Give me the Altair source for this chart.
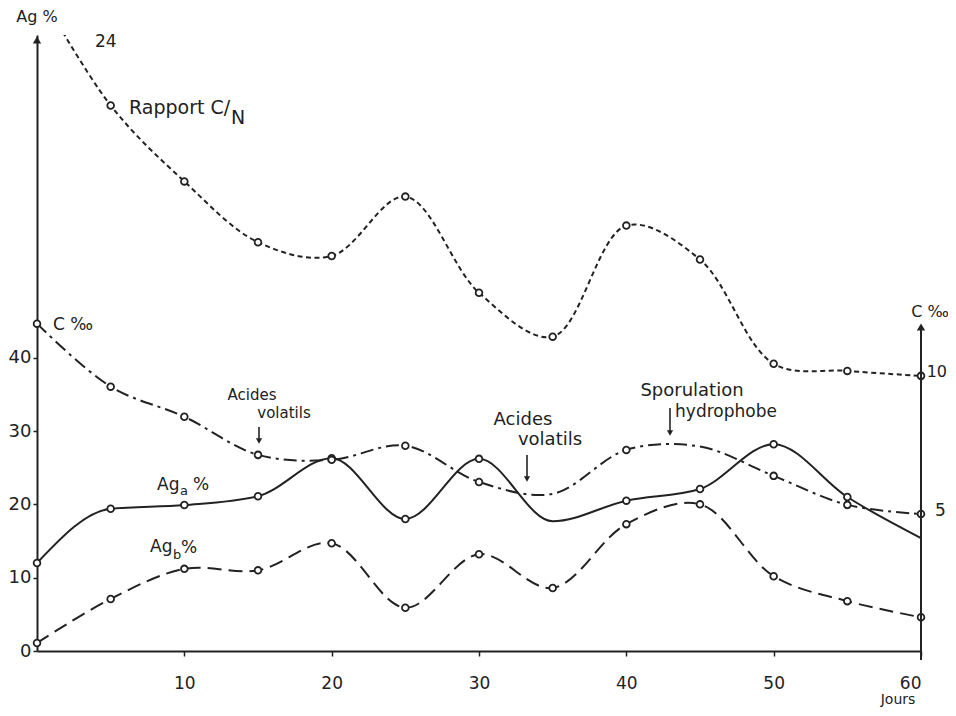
import altair as alt
import pandas as pd

# ---- data ----
days = [0, 5, 10, 15, 20, 25, 30, 35, 40, 45, 50, 55, 60]
rapport_cn = [24.0, 19.75, 17.0, 14.8, 14.3, 16.45, 12.97, 11.38, 15.4, 14.17, 10.4, 10.14, 9.96]
carbone = [11.85, 9.57, 8.48, 7.1, 6.92, 7.43, 6.12, 5.69, 7.28, 7.4, 6.34, 5.29, 4.96]
ag_a = [12.0, 19.4, 19.9, 21.1, 26.3, 18.0, 26.2, 17.7, 20.5, 22.1, 28.2, 21.0, 15.4]
ag_b = [1.1, 7.1, 11.2, 11.0, 14.7, 5.9, 13.2, 8.6, 17.3, 20.0, 10.2, 6.8, 4.6]
cn_marked = [0, 1, 1, 1, 1, 1, 1, 1, 1, 1, 1, 1, 1]
carbone_marked = [1, 1, 1, 1, 1, 1, 1, 0, 1, 0, 1, 1, 1]
ag_a_marked = [1, 1, 1, 1, 1, 1, 1, 0, 1, 1, 1, 1, 0]
ag_b_marked = [1, 1, 1, 1, 1, 1, 1, 1, 1, 1, 1, 1, 1]

x_ticks = [10, 20, 30, 40, 50, 60]
ag_ticks = [0, 10, 20, 30, 40]
c_ticks = [5, 10]

INK = "#222222"
FONT = "DejaVu Sans"
W, H = 884, 616

def frame(vals, marked):
    return pd.DataFrame({"jour": days, "v": vals, "m": marked})

xs = alt.Scale(domain=[0, 60], nice=False, zero=False)
ag_scale = alt.Scale(domain=[0, 84], nice=False, zero=False)
c_scale = alt.Scale(domain=[0, 22.3], nice=False, zero=False)

x_axis = alt.Axis(values=x_ticks, title=None, grid=False, domainWidth=2, domainColor=INK,
                  tickColor=INK, tickWidth=1.5, tickSize=5, labelFont=FONT, labelFontSize=17,
                  labelColor=INK, labelPadding=19)
y_axis = alt.Axis(values=ag_ticks, title=None, grid=False, domainWidth=2, domainColor=INK,
                  tickColor=INK, tickWidth=1.5, tickSize=4, labelFont=FONT, labelFontSize=18,
                  labelColor=INK, labelPadding=2, orient="left")

def series(vals, marked, scale, dash, interp="catmull-rom", first=False):
    df = frame(vals, marked)
    base = alt.Chart(df)
    line_kw = dict(interpolate=interp, color=INK, strokeWidth=2, clip=True)
    if dash:
        line_kw["strokeDash"] = dash
    line = base.mark_line(**line_kw).encode(
        x=alt.X("jour:Q", scale=xs, axis=x_axis),
        y=alt.Y("v:Q", scale=scale, axis=y_axis if first else None),
    )
    pts = base.transform_filter("datum.m == 1").mark_point(
        filled=True, fill="white", stroke=INK, strokeWidth=1.8, size=45, opacity=1
    ).encode(
        x=alt.X("jour:Q", scale=xs, axis=x_axis),
        y=alt.Y("v:Q", scale=scale, axis=None),
    )
    return [line, pts]

layers = []
layers += series(ag_a, ag_a_marked, ag_scale, None, interp="monotone", first=True)
layers += series(ag_b, ag_b_marked, ag_scale, [14, 7])
layers += series(carbone, carbone_marked, c_scale, [13, 5, 3, 5])
layers += series(rapport_cn, cn_marked, c_scale, [5, 3.5])

one = pd.DataFrame({"k": [0]})

def txt(s, x, y, size=17, align="left"):
    return alt.Chart(one).mark_text(text=s, font=FONT, fontSize=size, color=INK,
                                    align=align, baseline="middle").encode(
        x=alt.value(x), y=alt.value(y))

def arrow(x, y1, y2):
    r = alt.Chart(one).mark_rule(color=INK, strokeWidth=1.6).encode(
        x=alt.value(x), y=alt.value(y1), y2=alt.value(y2 - 3))
    h = alt.Chart(one).mark_point(shape="triangle-down", filled=True, color=INK,
                                  size=38, opacity=1).encode(
        x=alt.value(x), y=alt.value(y2 - 4))
    return [r, h]

# left axis arrowhead and right axis (C ‰)
layers.append(alt.Chart(one).mark_point(shape="triangle-up", filled=True, color=INK,
                                        size=70, opacity=1).encode(
    x=alt.value(0), y=alt.value(5)))
layers.append(alt.Chart(one).mark_rule(color=INK, strokeWidth=2).encode(
    x=alt.value(W), y=alt.value(292), y2=alt.value(625)))
layers.append(alt.Chart(one).mark_point(shape="triangle-up", filled=True, color=INK,
                                        size=70, opacity=1).encode(
    x=alt.value(W), y=alt.value(292)))

# texts
layers += [
    txt("Ag %", 0, -18, 16, "center"),
    txt("24", 58, 7, 17),
    txt("Rapport C/", 92, 73, 19),
    txt("N", 194, 83, 19),
    txt("C ‰", 16, 290, 17),
    txt("Acides", 215, 360, 15, "center"),
    txt("volatils", 247, 378, 15, "center"),
    txt("Acides", 486, 385, 18, "center"),
    txt("volatils", 513, 405, 18, "center"),
    txt("Sporulation", 655, 356, 18, "center"),
    txt("hydrophobe", 689, 377, 17, "center"),
    txt("Ag", 120, 450, 17),
    txt("a", 143, 456, 13),
    txt("%", 156, 450, 17),
    txt("Ag", 113, 512, 17),
    txt("b", 136, 520, 13),
    txt("%", 144, 513, 17),
    txt("C ‰", 893, 277, 16, "center"),
    txt(str(c_ticks[1]), 910, 337, 16, "right"),
    txt(str(c_ticks[0]), 898, 476, 17),
    txt("Jours", 861, 665, 14, "center"),
]
layers += arrow(222, 392, 410)
layers += arrow(490, 420, 448)
layers += arrow(633, 373, 402)

chart = alt.layer(*layers).resolve_scale(y="independent").properties(
    width=W, height=H,
    autosize=alt.AutoSizeParams(type="none"),
    padding={"left": 29, "top": 27, "right": 27, "bottom": 57},
    background="white",
).configure_view(stroke=None)

chart.save("out.html", embed_options={"renderer": "svg", "actions": False})
